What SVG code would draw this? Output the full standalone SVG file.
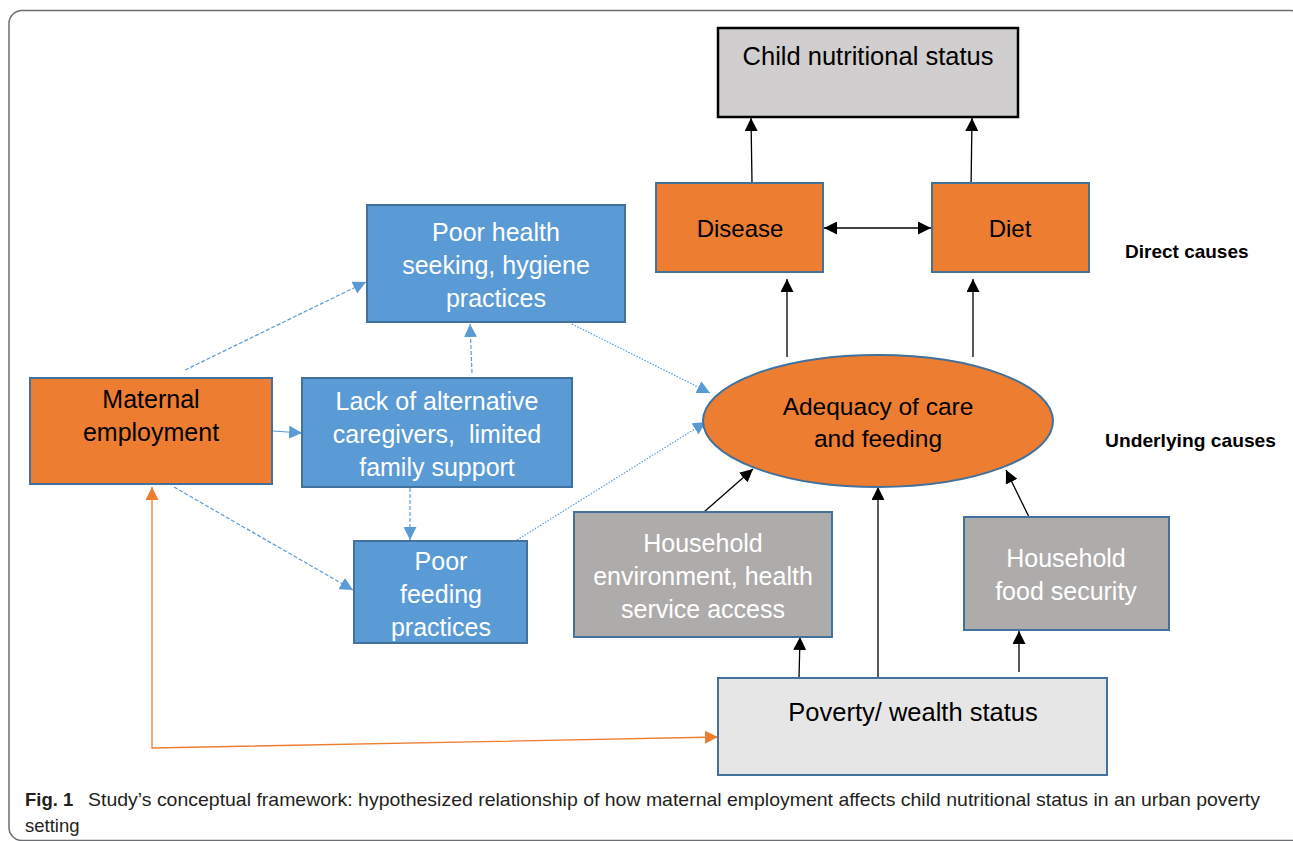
<svg xmlns="http://www.w3.org/2000/svg" width="1293" height="841" viewBox="0 0 1293 841">
<style>
.t{font-family:"Liberation Sans",Arial,sans-serif;text-anchor:middle;white-space:pre}
.w{fill:#ffffff}
.k{fill:#000000}
.blue{fill:#5b9bd5;stroke:#41719c;stroke-width:2}
.orange{fill:#ed7d31;stroke:#41719c;stroke-width:2}
.gray{fill:#aeabab;stroke:#41719c;stroke-width:2}
.cb{stroke:#000;stroke-width:1.3;fill:none}
.bl{stroke:#5b9bd5;stroke-width:1.2;fill:none}
.dash{stroke-dasharray:4 2}
.dot{stroke-dasharray:1.5 1.5}
.lbl{font-family:"Liberation Sans",Arial,sans-serif;font-weight:bold;font-size:19px;fill:#000}
.cap{font-family:"Liberation Sans",Arial,sans-serif;font-size:18.5px;fill:#231f20}
</style>
<defs>
<marker id="ak" markerUnits="userSpaceOnUse" markerWidth="14" markerHeight="13" refX="13" refY="6.5" orient="auto-start-reverse"><path d="M0,0 L13,6.5 L0,13 z" fill="#000"/></marker>
<marker id="ab" markerUnits="userSpaceOnUse" markerWidth="14" markerHeight="13" refX="13" refY="6.5" orient="auto"><path d="M0,0 L13,6.5 L0,13 z" fill="#5b9bd5"/></marker>
<marker id="ao" markerUnits="userSpaceOnUse" markerWidth="14" markerHeight="13" refX="13" refY="6.5" orient="auto-start-reverse"><path d="M0,0 L13,6.5 L0,13 z" fill="#ed7d31"/></marker>
</defs>
<rect x="0" y="0" width="1293" height="841" fill="#fff"/>
<rect x="9" y="10.5" width="1294" height="830" rx="13" fill="none" stroke="#6d6e70" stroke-width="1.5"/>

<g id="connectors">
<line class="cb" x1="752" y1="183" x2="751" y2="118" marker-end="url(#ak)"/>
<line class="cb" x1="971" y1="189" x2="972" y2="118" marker-end="url(#ak)"/>
<line class="cb" x1="824" y1="228" x2="931" y2="228" marker-start="url(#ak)" marker-end="url(#ak)"/>
<line class="cb" x1="787" y1="357" x2="787" y2="279" marker-end="url(#ak)"/>
<line class="cb" x1="973" y1="357" x2="973" y2="279" marker-end="url(#ak)"/>
<line class="cb" x1="704" y1="512" x2="753" y2="469" marker-end="url(#ak)"/>
<line class="cb" x1="878" y1="678" x2="878" y2="487" marker-end="url(#ak)"/>
<line class="cb" x1="1029" y1="517" x2="1006" y2="470" marker-end="url(#ak)"/>
<line class="cb" x1="799" y1="678" x2="800" y2="637" marker-end="url(#ak)"/>
<line class="cb" x1="1019" y1="672" x2="1019" y2="631" marker-end="url(#ak)"/>
<polyline points="152,487 152,748 718,737" fill="none" stroke="#ed7d31" stroke-width="1.3" marker-start="url(#ao)" marker-end="url(#ao)"/>
<line class="bl dash" x1="185" y1="370" x2="366" y2="282" marker-end="url(#ab)"/>
<line class="bl dash" x1="472" y1="373" x2="470" y2="324" marker-end="url(#ab)"/>
<line class="bl" x1="273" y1="431" x2="302" y2="433" marker-end="url(#ab)"/>
<line class="bl dash" x1="410" y1="488" x2="410" y2="540" marker-end="url(#ab)"/>
<line class="bl dash" x1="174" y1="487" x2="353" y2="590" marker-end="url(#ab)"/>
<line class="bl dot" x1="572" y1="324" x2="710" y2="393" marker-end="url(#ab)"/>
<line class="bl dot" x1="517" y1="540" x2="706" y2="422" marker-end="url(#ab)"/>
</g>

<g id="child">
<rect x="718" y="28" width="300" height="89" fill="#d0cece" stroke="#000" stroke-width="2.5"/>
<text class="t k" x="868" y="65" font-size="25.5">Child nutritional status</text>
</g>
<g id="disease">
<rect class="orange" x="656" y="183" width="167" height="89"/>
<text class="t k" x="740" y="237" font-size="24">Disease</text>
</g>
<g id="diet">
<rect class="orange" x="932" y="183" width="157" height="89"/>
<text class="t k" x="1010" y="237" font-size="24">Diet</text>
</g>
<g id="direct-causes">
<text class="lbl" x="1125" y="258">Direct causes</text>
</g>
<g id="poor-health">
<rect class="blue" x="367" y="205" width="258" height="117"/>
<text class="t w" font-size="25"><tspan x="496" y="241">Poor health</tspan><tspan x="496" y="274">seeking, hygiene</tspan><tspan x="496" y="307">practices</tspan></text>
</g>
<g id="maternal">
<rect class="orange" x="30" y="378" width="242" height="106"/>
<text class="t k" font-size="25"><tspan x="151" y="408">Maternal</tspan><tspan x="151" y="441">employment</tspan></text>
</g>
<g id="lack">
<rect class="blue" x="302" y="378" width="270" height="109"/>
<text class="t w" font-size="25"><tspan x="437" y="410">Lack of alternative</tspan><tspan x="437" y="443">caregivers,  limited</tspan><tspan x="437" y="476">family support</tspan></text>
</g>
<g id="poor-feeding">
<rect class="blue" x="354" y="541" width="173" height="102"/>
<text class="t w" font-size="25"><tspan x="441" y="570">Poor</tspan><tspan x="441" y="603">feeding</tspan><tspan x="441" y="636">practices</tspan></text>
</g>
<g id="adequacy">
<ellipse cx="878" cy="421" rx="175" ry="66" fill="#ed7d31" stroke="#41719c" stroke-width="2"/>
<text class="t k" font-size="24.5"><tspan x="878" y="415">Adequacy of care</tspan><tspan x="878" y="447">and feeding</tspan></text>
</g>
<g id="underlying-causes">
<text class="lbl" x="1105" y="447" textLength="171" lengthAdjust="spacingAndGlyphs">Underlying causes</text>
</g>
<g id="hh-env">
<rect class="gray" x="574" y="512" width="258" height="125"/>
<text class="t w" font-size="25"><tspan x="703" y="552">Household</tspan><tspan x="703" y="585">environment, health</tspan><tspan x="703" y="618">service access</tspan></text>
</g>
<g id="hh-food">
<rect class="gray" x="964" y="517" width="205" height="113"/>
<text class="t w" font-size="25"><tspan x="1066" y="567">Household</tspan><tspan x="1066" y="600">food security</tspan></text>
</g>
<g id="poverty">
<rect x="718" y="678" width="389" height="97" fill="#e7e6e6" stroke="#41719c" stroke-width="2"/>
<text class="t k" x="913" y="721" font-size="25.5">Poverty/ wealth status</text>
</g>

<g id="caption">
<text class="cap" x="25" y="806" font-weight="bold" fill="#000">Fig. 1</text>
<text class="cap" x="88" y="806" textLength="1172" lengthAdjust="spacingAndGlyphs">Study’s conceptual framework: hypothesized relationship of how maternal employment affects child nutritional status in an urban poverty</text>
<text class="cap" x="25" y="832">setting</text>
</g>
</svg>
